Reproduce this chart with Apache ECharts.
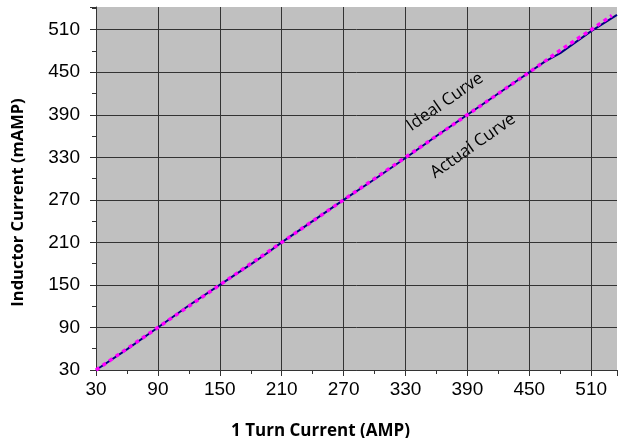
<!DOCTYPE html>
<html>
<head>
<meta charset="utf-8">
<script src="https://cdn.jsdelivr.net/npm/echarts@6/dist/echarts.min.js"></script>
<style>
  html,body{margin:0;padding:0;background:#fff;}
  #chart{width:618px;height:438px;}
</style>
</head>
<body>
<div id="chart"></div>
<script>
// values
var actualX = [30, 60, 90, 120, 150, 180, 195, 210, 240, 270, 300, 330, 360, 390, 420, 450, 465, 480, 510, 535];
var actualY = [30, 59, 90, 121, 150, 179, 194, 210, 240, 270, 299, 329, 360, 390, 420, 450, 465, 477, 508, 531];
var idealX = [30, 60, 90, 120, 150, 180, 210, 240, 270, 300, 330, 360, 390, 420, 450, 480, 510, 530];
var idealY = [30, 60, 90, 120, 150, 180, 210, 240, 270, 300, 330, 360, 390, 420, 450, 481, 510, 530];
var xTitle = '1 Turn Current (AMP)';
var yTitle = 'Inductor Current (mAMP)';

function pairs(xs, ys){
    var out = [];
    for (var i = 0; i < xs.length; i++) out.push([xs[i], ys[i]]);
    return out;
}

var myChart = echarts.init(document.getElementById('chart'));
var gridCol = '#333333';
var option = {
    animation: false,
    grid: {left: 96, right: 1, top: 7, bottom: 68, outerBoundsMode: 'none', containLabel: false,
           show: true, backgroundColor: '#c0c0c0', borderWidth: 0},
    xAxis: {
        type: 'value', min: 30, max: 535, interval: 60,
        name: xTitle, nameLocation: 'middle', nameGap: 53,
        nameTextStyle: {fontFamily: 'Open Sans', fontWeight: 'bold', fontSize: 17, color: '#000', padding: [0, 72, 0, 0]},
        axisLine: {lineStyle: {color: gridCol, width: 1}},
        axisTick: {length: 6, lineStyle: {color: gridCol}},
        minorTick: {show: true, splitNumber: 2, length: 4, lineStyle: {color: gridCol}},
        axisLabel: {fontFamily: 'Liberation Sans', fontSize: 19, color: '#000', margin: 10, showMaxLabel: false},
        splitLine: {show: true, showMaxLine: false, lineStyle: {color: gridCol, width: 1}}
    },
    yAxis: {
        type: 'value', min: 30, max: 542, interval: 60,
        name: yTitle, nameLocation: 'middle', nameGap: 69, nameRotate: 90,
        nameTextStyle: {fontFamily: 'Open Sans', fontWeight: 'bold', fontSize: 16.5, color: '#000', padding: [0, 28, 0, 0]},
        axisLine: {show: true, lineStyle: {color: gridCol, width: 1}},
        axisTick: {show: true, length: 6, lineStyle: {color: gridCol}},
        minorTick: {show: true, splitNumber: 2, length: 4, lineStyle: {color: gridCol}},
        axisLabel: {fontFamily: 'Liberation Sans', fontSize: 19, color: '#000', margin: 16, showMaxLabel: false},
        splitLine: {show: true, showMaxLine: false, lineStyle: {color: gridCol, width: 1}}
    },
    graphic: [
        {type: 'text', x: 445, y: 102, rotation: 35 * Math.PI / 180,
         style: {text: 'Ideal Curve', font: '17px "Open Sans"', fill: '#000', align: 'center', verticalAlign: 'middle'}},
        {type: 'text', x: 473, y: 146, rotation: 35 * Math.PI / 180,
         style: {text: 'Actual Curve', font: '17px "Open Sans"', fill: '#000', align: 'center', verticalAlign: 'middle'}}
    ],
    series: [
        {
            name: 'Actual Curve', type: 'line', data: pairs(actualX, actualY),
            showSymbol: false, lineStyle: {color: '#000080', width: 2}, z: 2
        },
        {
            name: 'Ideal Curve', type: 'line', data: pairs(idealX, idealY),
            showSymbol: false, lineStyle: {color: '#ff00ff', width: 3.5, type: [4, 4]}, z: 3
        }
    ]
};
myChart.setOption(option);
</script>
</body>
</html>
